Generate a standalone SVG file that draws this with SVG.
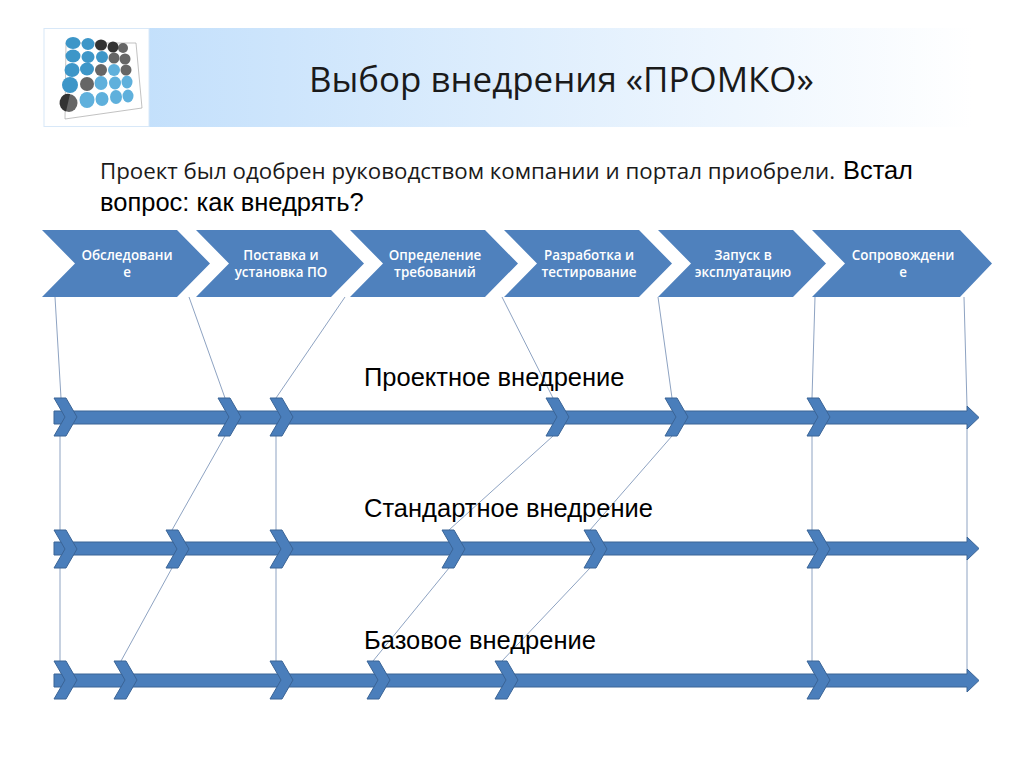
<svg xmlns="http://www.w3.org/2000/svg" width="1024" height="768" viewBox="0 0 1024 768">
<style>
.step{fill:#4f81bd}
.steplabel{font-family:"Open Sans","Noto Sans",sans-serif;font-size:13.4px;font-weight:600;fill:#fff;text-anchor:middle}
.bar{fill:#4a7ebb;stroke:#3a6496;stroke-width:1}
.conn{stroke:#8ea3c2;stroke-width:1;fill:none}
.arial{font-family:"Liberation Sans",Arial,sans-serif;fill:#000}
.open{font-family:"Open Sans","Noto Sans",sans-serif;fill:#1a1a1a}
.track{font-size:25.500px}
</style>
<defs>
<linearGradient id="hdr" x1="0" x2="1" y1="0" y2="0"><stop offset="0" stop-color="#bcdcfb"/><stop offset="1" stop-color="#fff"/></linearGradient>
<polygon id="chev" class="bar" points="0,-19 12,-19 23,0 12,19 0,19 11,0"/>
<polygon id="big" class="step" points="0,0 135,0 168,33.5 135,67 0,67 33,33.5"/>
</defs>
<rect width="1024" height="768" fill="#fff"/>
<g id="header">
<rect x="44" y="28" width="928" height="99" fill="url(#hdr)"/>
<rect x="44" y="28.500" width="105" height="98" fill="#fff" stroke="#d8e8f8" stroke-width="1"/>
<g id="logo">
<polygon points="66,43 136,43 142,108 65,119" fill="none" stroke="#999" stroke-width="0.6"/>
<g fill="#3d96c8">
<ellipse cx="73" cy="43" rx="7.500" ry="6"/><ellipse cx="88" cy="44" rx="6.500" ry="6"/>
<ellipse cx="73" cy="56" rx="7.500" ry="6.500"/><ellipse cx="88" cy="57" rx="6.500" ry="6"/><ellipse cx="102" cy="57" rx="6" ry="6"/>
<ellipse cx="72" cy="70" rx="7.500" ry="7"/><ellipse cx="87" cy="69" rx="7" ry="6.500"/>
<ellipse cx="70" cy="85" rx="8" ry="8"/>
</g>
<g fill="#5fb0dc">
<ellipse cx="114" cy="70" rx="6" ry="6"/><ellipse cx="101" cy="83" rx="6.500" ry="7"/><ellipse cx="115" cy="83" rx="6" ry="6.500"/><ellipse cx="127" cy="82" rx="5.500" ry="6.500"/>
<ellipse cx="87" cy="100" rx="7.500" ry="8"/><ellipse cx="102" cy="99" rx="6.500" ry="7"/><ellipse cx="116" cy="97" rx="6" ry="7"/><ellipse cx="128" cy="96" rx="5.500" ry="6.500"/>
</g>
<g fill="#666">
<ellipse cx="114" cy="58" rx="5.500" ry="5.500"/><ellipse cx="125" cy="59" rx="5.500" ry="5.500"/><ellipse cx="101" cy="70" rx="6" ry="6"/><ellipse cx="126" cy="70" rx="5.500" ry="5.500"/><ellipse cx="87" cy="84" rx="7" ry="7"/><ellipse cx="123" cy="48" rx="5" ry="5"/>
<ellipse cx="69" cy="103" rx="8.500" ry="9"/>
</g>
<g fill="#333">
<ellipse cx="101" cy="45" rx="6" ry="5.500"/><ellipse cx="113" cy="47" rx="5.500" ry="5.500"/><path d="M70 94a8.500 9 0 0 0 -4 17.500z"/>
</g>
</g>
<text class="open" x="309" y="92" font-size="34.900">Выбор внедрения «ПРОМКО»</text>
</g>
<text class="open" x="100" y="179" font-size="22.300" textLength="735">Проект был одобрен руководством компании и портал приобрели.</text>
<text class="arial" x="843" y="179" font-size="25.400">Встал</text>
<text class="arial" x="100" y="211" font-size="25.500">вопрос: как внедрять?</text>

<g id="connectors">
<path class="conn" d="M55 297L61 398M189 297L225 398M345 297L276 398M502 297L553 398M658 297L672 398M815 297L812 398M964 297L967 406"/>
<path class="conn" d="M60 436V530M225 436L172 530M276 436V530M553 436L449 530M672 436L590 530M812 436V530M967 428V537"/>
<path class="conn" d="M60 568V661M172 568L121 661M276 568V661M449 568L373 661M590 568L502 661M812 568V661M967 559V669"/>
</g>

<g id="step1"><use href="#big" x="42" y="230"/><text class="steplabel" x="127" y="260">Обследовани</text><text class="steplabel" x="127" y="277">е</text></g>
<g id="step2"><use href="#big" x="196" y="230"/><text class="steplabel" x="281" y="260">Поставка и</text><text class="steplabel" x="281" y="277">установка ПО</text></g>
<g id="step3"><use href="#big" x="350" y="230"/><text class="steplabel" x="435" y="260">Определение</text><text class="steplabel" x="435" y="277">требований</text></g>
<g id="step4"><use href="#big" x="504" y="230"/><text class="steplabel" x="589" y="260">Разработка и</text><text class="steplabel" x="589" y="277">тестирование</text></g>
<g id="step5"><use href="#big" x="658" y="230"/><text class="steplabel" x="743" y="260">Запуск в</text><text class="steplabel" x="743" y="277">эксплуатацию</text></g>
<g id="step6"><polygon class="step" points="812,230 960,230 992,263.500 960,297 812,297 845,263.500"/><text class="steplabel" x="903" y="260">Сопровождени</text><text class="steplabel" x="903" y="277">е</text></g>

<g id="track1">
<polygon class="bar" points="54,411 967,411 967,406 979,417.500 967,429 967,424 54,424"/>
<use href="#chev" x="54" y="417"/><use href="#chev" x="218" y="417"/><use href="#chev" x="270" y="417"/><use href="#chev" x="546" y="417"/><use href="#chev" x="665" y="417"/><use href="#chev" x="807" y="417"/>
<text class="arial track" x="364" y="386">Проектное внедрение</text>
</g>
<g id="track2">
<polygon class="bar" points="54,542 967,542 967,537 979,548.500 967,560 967,555 54,555"/>
<use href="#chev" x="54" y="549"/><use href="#chev" x="166" y="549"/><use href="#chev" x="270" y="549"/><use href="#chev" x="442" y="549"/><use href="#chev" x="584" y="549"/><use href="#chev" x="807" y="549"/>
<text class="arial track" x="364" y="517">Стандартное внедрение</text>
</g>
<g id="track3">
<polygon class="bar" points="54,674 967,674 967,669 979,680.500 967,692 967,687 54,687"/>
<use href="#chev" x="54" y="680"/><use href="#chev" x="114" y="680"/><use href="#chev" x="270" y="680"/><use href="#chev" x="367" y="680"/><use href="#chev" x="495" y="680"/><use href="#chev" x="807" y="680"/>
<text class="arial track" x="364" y="649">Базовое внедрение</text>
</g>
</svg>
